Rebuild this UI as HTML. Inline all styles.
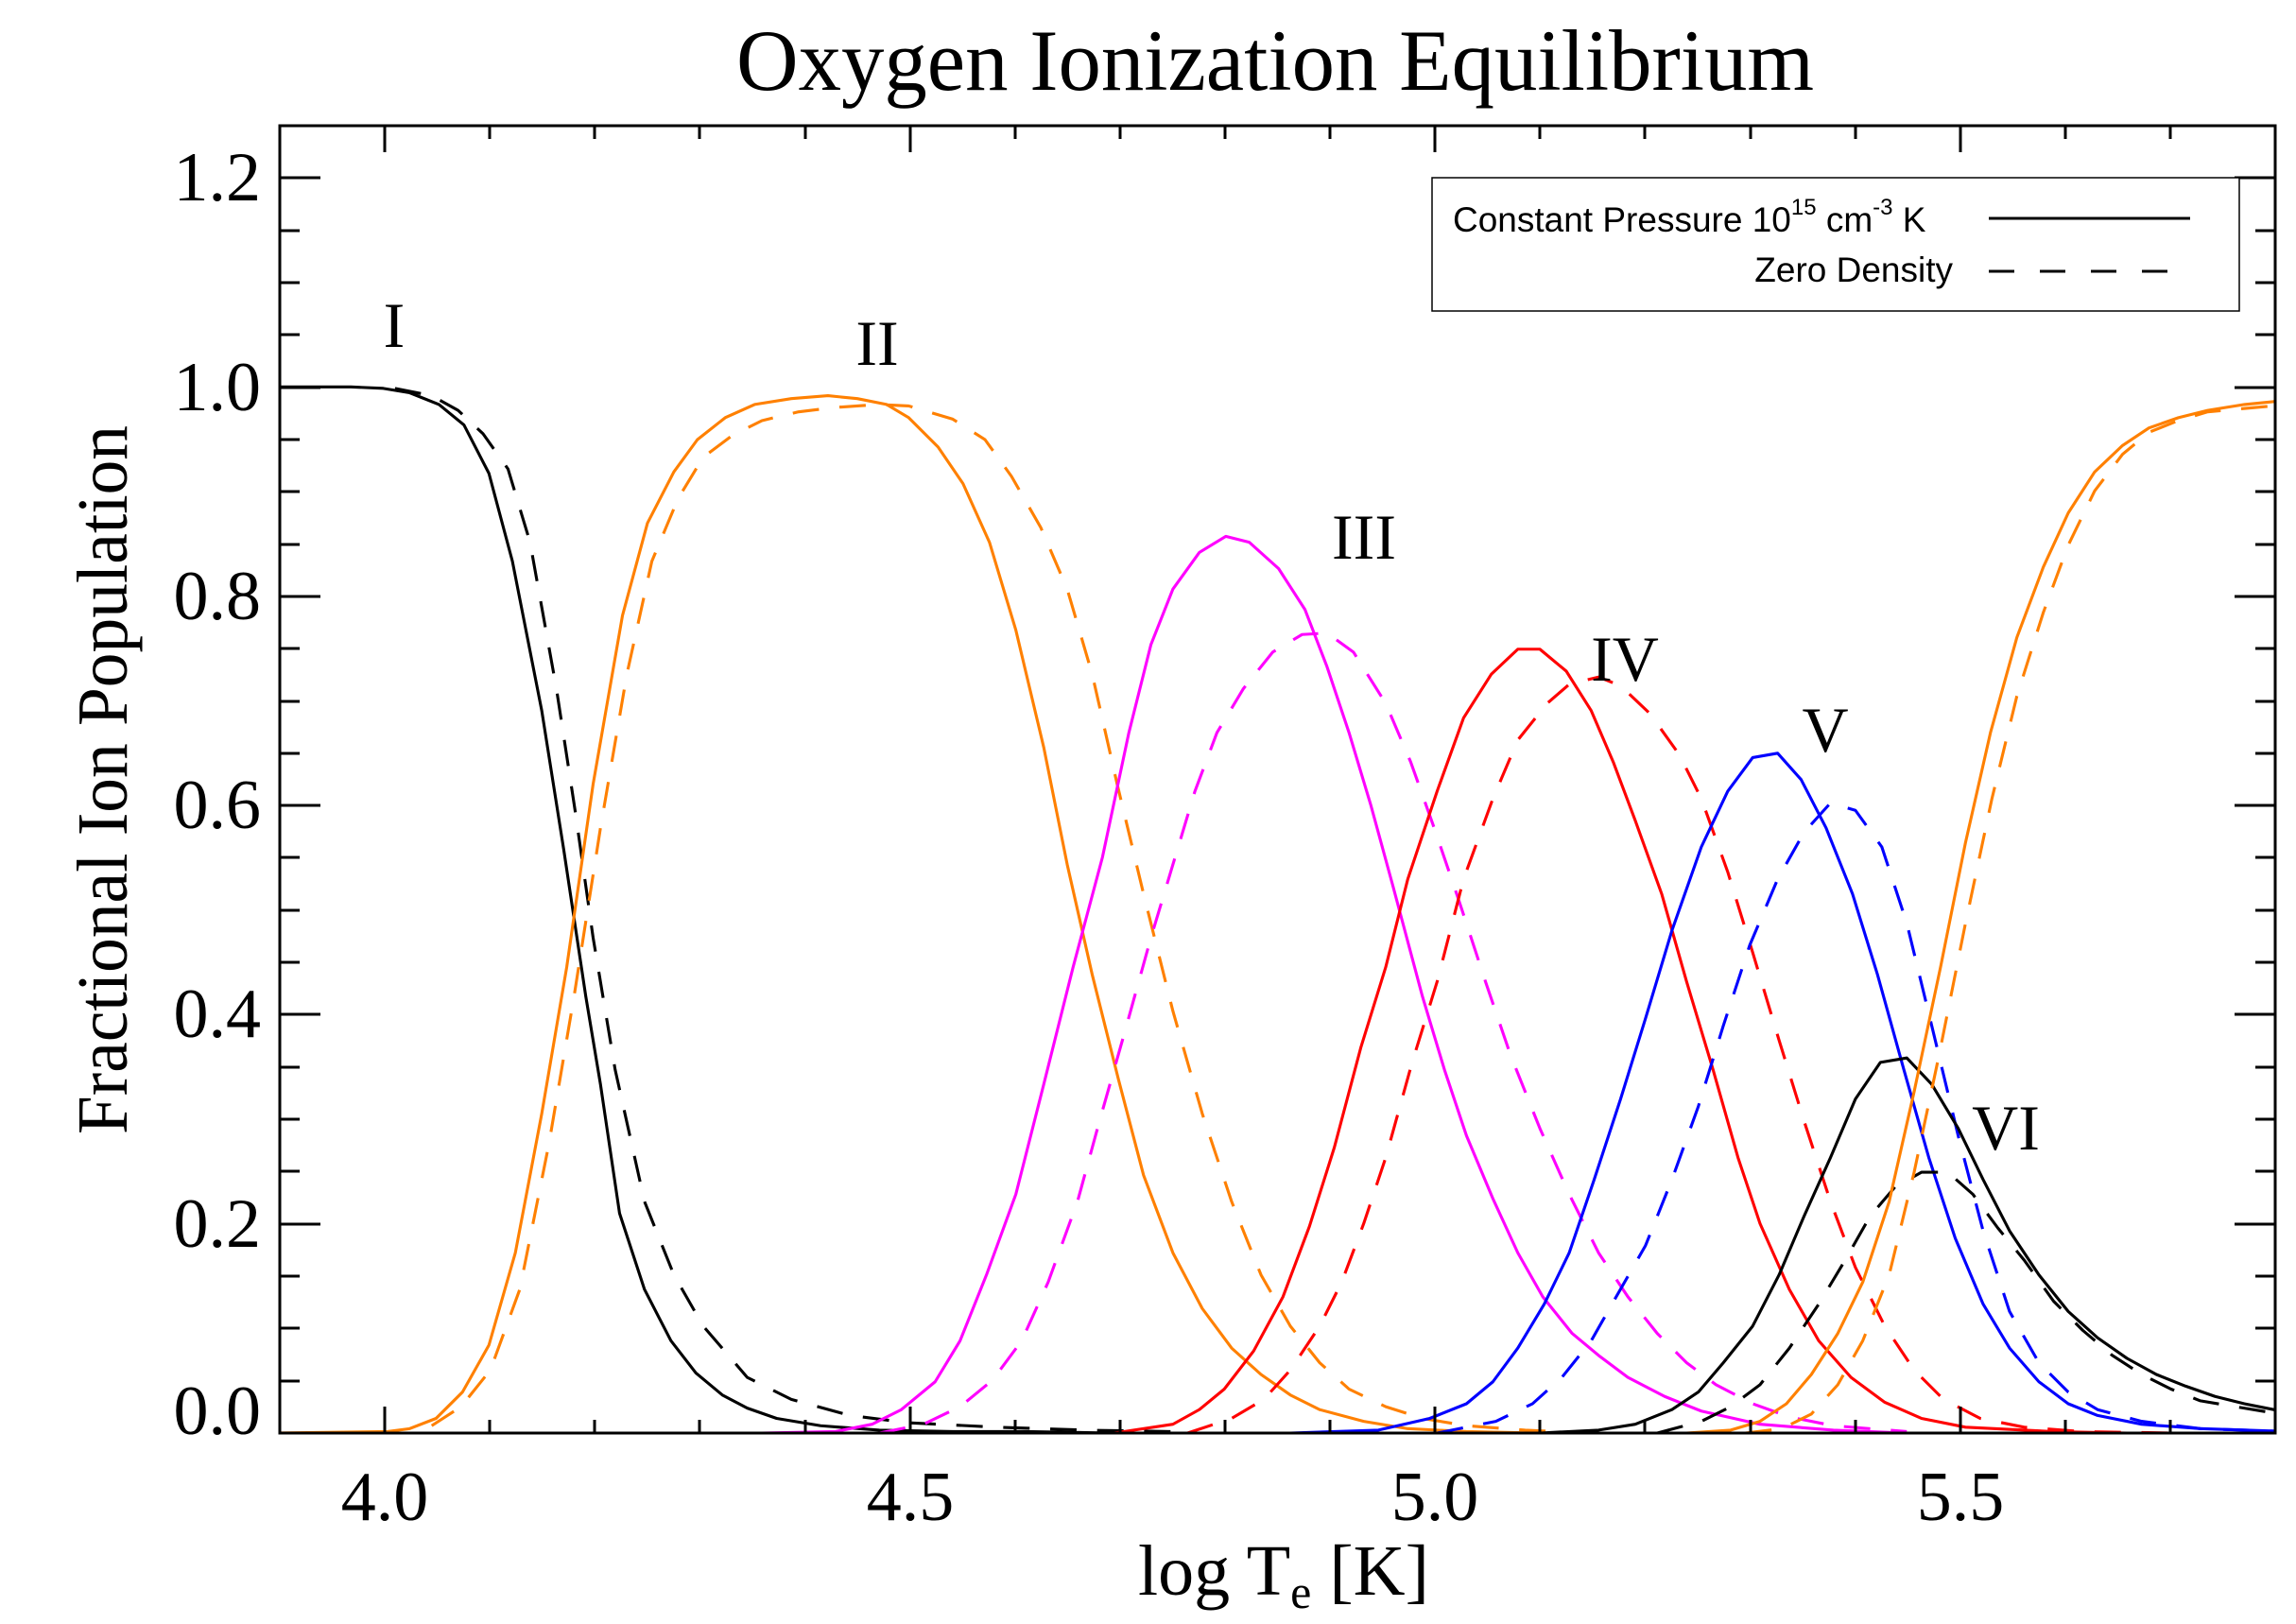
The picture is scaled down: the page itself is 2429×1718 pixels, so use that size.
<!DOCTYPE html>
<html><head><meta charset="utf-8"><style>html,body{margin:0;padding:0;background:#fff}svg{display:block}</style></head>
<body>
<svg width="2429" height="1718" viewBox="0 0 2429 1718" xmlns="http://www.w3.org/2000/svg">
<rect width="2429" height="1718" fill="#fff"/>
<defs><clipPath id="c"><rect x="296" y="133" width="2111" height="1383"/></clipPath></defs>
<g clip-path="url(#c)">
<g transform="matrix(1.5528 0 0 1.55 -1.39 0.1)" fill="none" stroke-width="2" stroke-linejoin="round">
<line x1="190" y1="978" x2="1560" y2="978" stroke="#ff8000"/>
<!-- OI -->
<polyline stroke="#000" points="190,264 240,264 262,265 280,268 300,276 317,290 334,323 350,383 370,485 385,580 400,680 410,740 423,828 440,880 458,915 475,937 493,952 510,961 530,968 560,973 600,976 650,977 700,977 760,978"/>
<polyline stroke="#000" stroke-dasharray="18,14" points="270,265 295,270 313,280 330,296 347,320 362,370 380,470 393,555 405,640 420,730 440,820 460,870 480,905 510,940 540,955 580,966 620,971 680,974 740,976 800,977"/>
<!-- OII -->
<polyline stroke="#ff8000" points="190,978 265,977 280,975 298,968 316,950 334,918 352,855 370,760 387,660 405,535 425,420 442,357 460,322 476,300 495,285 515,276 540,272 565,270 585,272 605,276 620,285 640,305 657,330 675,370 693,430 712,510 728,590 745,665 763,737 780,802 800,855 820,893 840,920 860,938 880,952 900,962 930,970 960,975 1000,977 1050,978"/>
<polyline stroke="#ff8000" stroke-dasharray="18,14" points="295,973 315,960 335,935 355,880 375,780 392,680 410,565 428,460 445,383 463,340 480,312 500,297 520,287 545,281 570,278 600,276 620,277 650,286 672,300 690,325 710,360 728,402 745,460 762,535 780,610 800,690 820,760 840,820 860,870 880,905 900,930 920,948 945,960 970,968 1000,973 1040,976 1080,978"/>
<!-- OIII -->
<polyline stroke="#ff00ff" points="520,978 570,977 595,972 615,962 638,943 655,915 673,870 693,815 712,740 732,660 752,585 770,500 785,440 800,402 818,377 836,366 852,370 872,388 890,416 905,455 920,500 935,550 950,605 970,680 985,730 1000,775 1018,818 1035,855 1052,885 1072,910 1090,925 1110,940 1135,953 1160,963 1200,972 1250,976 1300,978"/>
<polyline stroke="#ff00ff" stroke-dasharray="18,14" points="600,978 630,972 655,960 677,942 697,915 715,875 735,820 750,765 767,705 785,640 800,590 815,540 830,500 848,470 868,445 888,433 905,432 923,445 945,480 962,520 978,565 995,615 1013,670 1030,720 1050,770 1070,815 1090,855 1110,885 1130,910 1150,930 1170,945 1195,958 1220,967 1250,973 1300,977"/>
<!-- OIV -->
<polyline stroke="#ff0000" points="760,978 800,972 818,962 835,948 855,922 875,885 893,837 910,783 928,715 945,660 960,600 980,540 998,490 1017,460 1035,443 1050,443 1068,458 1085,485 1100,520 1115,560 1133,610 1150,670 1168,730 1185,790 1200,835 1220,880 1240,915 1262,940 1285,957 1310,968 1340,974 1400,977 1450,978"/>
<polyline stroke="#ff0000" stroke-dasharray="18,14" points="810,978 840,968 862,955 880,935 900,905 915,875 930,835 945,790 963,725 980,670 998,600 1018,545 1035,505 1055,480 1070,467 1090,462 1105,468 1125,487 1145,515 1160,545 1178,595 1195,650 1213,710 1230,765 1248,820 1265,865 1285,905 1305,935 1325,955 1350,968 1380,974 1420,977 1480,978"/>
<!-- OV -->
<polyline stroke="#0000ff" points="880,978 940,976 975,968 1000,958 1018,943 1035,920 1053,890 1070,855 1087,805 1105,750 1122,695 1140,635 1160,578 1178,540 1195,517 1212,514 1228,532 1245,565 1263,610 1280,665 1298,730 1315,790 1333,845 1352,890 1370,920 1390,943 1410,958 1430,966 1460,972 1500,975 1560,977"/>
<polyline stroke="#0000ff" stroke-dasharray="18,14" points="980,978 1020,970 1045,958 1065,940 1085,915 1102,885 1122,850 1140,805 1158,755 1175,700 1193,645 1212,600 1230,568 1248,548 1265,553 1283,578 1300,630 1317,700 1335,775 1352,840 1370,895 1390,930 1410,950 1430,962 1460,970 1500,975 1560,977"/>
<!-- OVI -->
<polyline stroke="#000" points="1050,978 1090,976 1115,972 1140,962 1158,950 1175,930 1195,905 1213,870 1230,830 1248,790 1265,750 1282,725 1300,722 1317,740 1335,770 1352,805 1370,840 1390,870 1410,895 1430,913 1450,927 1470,938 1490,946 1510,953 1530,958 1560,964"/>
<polyline stroke="#000" stroke-dasharray="18,14" points="1130,978 1160,970 1180,960 1200,945 1220,920 1240,890 1258,860 1275,830 1292,810 1310,800 1328,800 1345,815 1362,838 1380,860 1400,888 1420,908 1440,925 1460,938 1480,948 1500,956 1560,966"/>
<!-- OVII -->
<polyline stroke="#ff8000" points="1150,978 1180,976 1200,970 1218,958 1235,938 1253,910 1270,875 1288,820 1305,745 1323,660 1340,575 1357,500 1375,435 1393,387 1410,350 1428,322 1447,304 1465,292 1485,285 1505,280 1530,276 1560,273"/>
<polyline stroke="#ff8000" stroke-dasharray="18,14" points="1190,978 1215,975 1235,965 1253,945 1270,915 1288,870 1305,800 1322,720 1340,630 1358,545 1375,475 1393,418 1410,372 1428,335 1447,310 1465,295 1485,287 1505,281 1560,276"/>
</g>
</g>
<!-- axes -->
<rect x="296" y="133" width="2111" height="1383" fill="none" stroke="#000" stroke-width="3"/>
<g stroke="#000" stroke-width="3">
<!-- x major -->
<path d="M407,1516v-28M963,1516v-28M1518,1516v-28M2074,1516v-28M407,133v28M963,133v28M1518,133v28M2074,133v28"/>
<!-- x minor -->
<path d="M518,1516v-14M629,1516v-14M740,1516v-14M852,1516v-14M1074,1516v-14M1185,1516v-14M1296,1516v-14M1407,1516v-14M1629,1516v-14M1740,1516v-14M1852,1516v-14M1963,1516v-14M2185,1516v-14M2296,1516v-14
M518,133v14M629,133v14M740,133v14M852,133v14M1074,133v14M1185,133v14M1296,133v14M1407,133v14M1629,133v14M1740,133v14M1852,133v14M1963,133v14M2185,133v14M2296,133v14"/>
<!-- y major -->
<path d="M296,1295h43M296,1073h43M296,852h43M296,631h43M296,410h43M296,188h43M2407,1295h-43M2407,1073h-43M2407,852h-43M2407,631h-43M2407,410h-43M2407,188h-43"/>
<!-- y minor -->
<path d="M296,1461h21M296,1350h21M296,1239h21M296,1184h21M296,1129h21M296,1018h21M296,963h21M296,907h21M296,797h21M296,742h21M296,686h21M296,576h21M296,520h21M296,465h21M296,354h21M296,299h21M296,244h21M296,1405h21
M2407,1461h-21M2407,1405h-21M2407,1350h-21M2407,1239h-21M2407,1184h-21M2407,1129h-21M2407,1018h-21M2407,963h-21M2407,907h-21M2407,797h-21M2407,742h-21M2407,686h-21M2407,576h-21M2407,520h-21M2407,465h-21M2407,354h-21M2407,299h-21M2407,244h-21"/>
</g>
<g font-family="Liberation Serif, serif" font-size="74" fill="#000">
<text x="407" y="1608" text-anchor="middle">4.0</text>
<text x="963" y="1608" text-anchor="middle">4.5</text>
<text x="1518" y="1608" text-anchor="middle">5.0</text>
<text x="2074" y="1608" text-anchor="middle">5.5</text>
<g text-anchor="end">
<text x="276" y="1517">0.0</text>
<text x="276" y="1319">0.2</text>
<text x="276" y="1097">0.4</text>
<text x="276" y="876">0.6</text>
<text x="276" y="655">0.8</text>
<text x="276" y="434">1.0</text>
<text x="276" y="212">1.2</text>
</g>
<text x="779" y="95" font-size="92" textLength="1140" lengthAdjust="spacingAndGlyphs">Oxygen Ionization Equilibrium</text>
<text x="1204" y="1687" font-size="76">log T<tspan font-size="50" dy="14">e</tspan><tspan dy="-14"> [K]</tspan></text>
<text transform="translate(134,825) rotate(-90)" text-anchor="middle" font-size="76" textLength="750" lengthAdjust="spacingAndGlyphs">Fractional Ion Population</text>
<g font-size="68" text-anchor="middle">
<text x="417" y="367">I</text>
<text x="928" y="386">II</text>
<text x="1443" y="591">III</text>
<text x="1719" y="720">IV</text>
<text x="1931" y="795">V</text>
<text x="2122" y="1216">VI</text>
</g>
</g>
<!-- legend -->
<rect x="1515" y="188" width="854" height="141" fill="#fff" stroke="#000" stroke-width="1.5"/>
<g font-family="Liberation Sans, sans-serif" fill="#000">
<text x="1537" y="245" font-size="37">Constant Pressure 10<tspan font-size="24" dy="-18">15</tspan><tspan dy="18"> cm</tspan><tspan font-size="24" dy="-18">-3</tspan><tspan dy="18"> K</tspan></text>
<text x="2066" y="298" font-size="37" text-anchor="end">Zero Density</text>
</g>
<line x1="2104" y1="231" x2="2317" y2="231" stroke="#000" stroke-width="3"/>
<line x1="2104" y1="287" x2="2295" y2="287" stroke="#000" stroke-width="3" stroke-dasharray="27,27"/>
</svg>
</body></html>
